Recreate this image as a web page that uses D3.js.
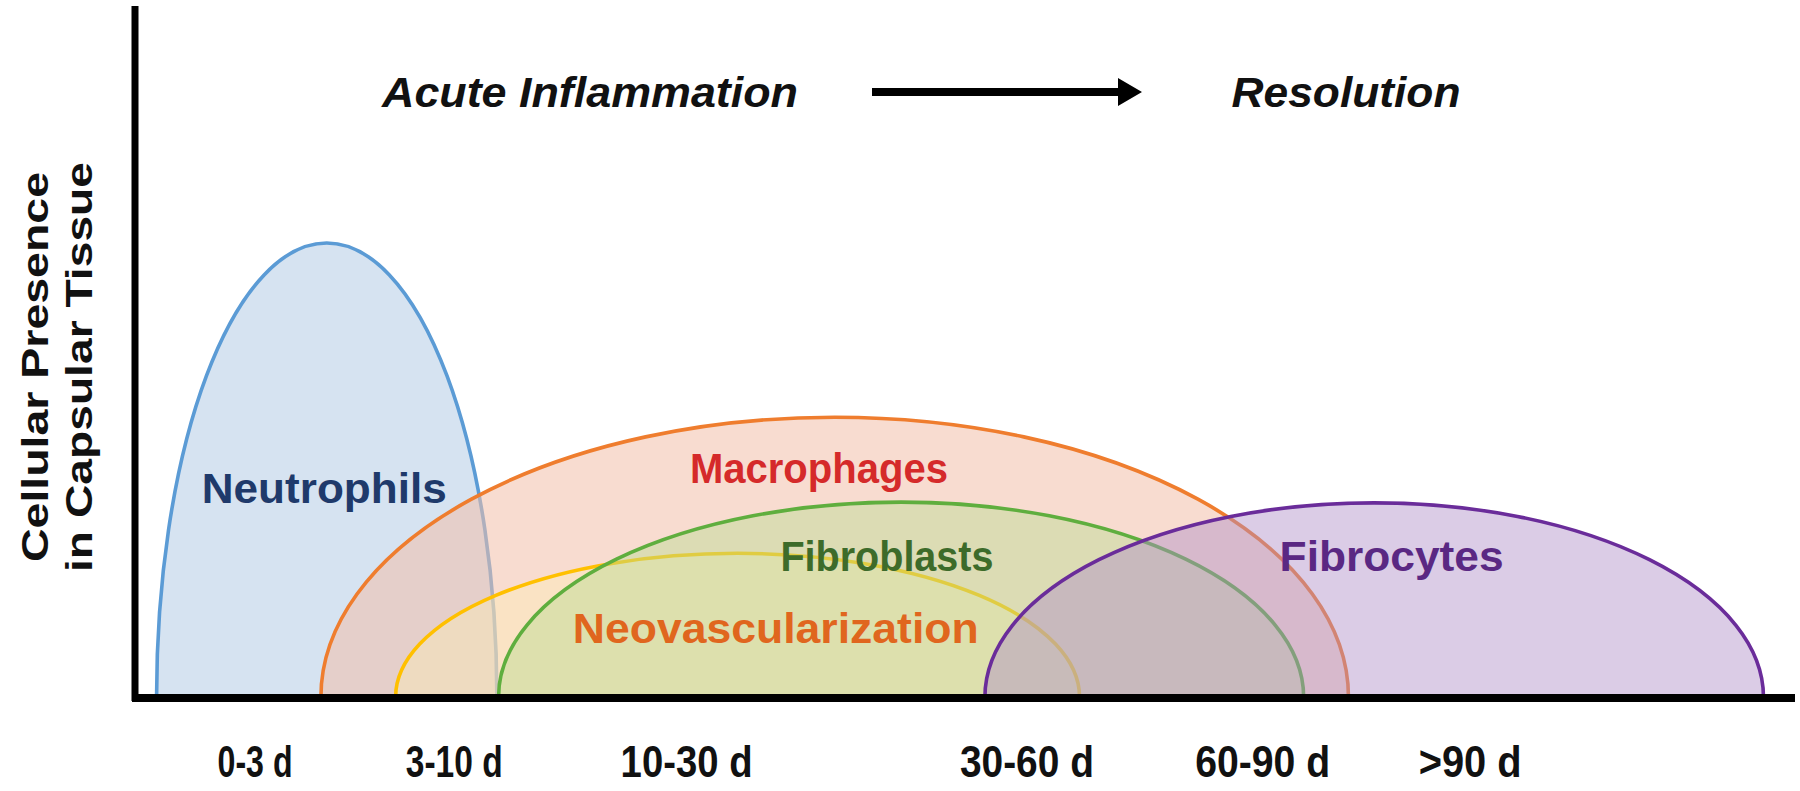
<!DOCTYPE html>
<html>
<head>
<meta charset="utf-8">
<script src="https://cdn.jsdelivr.net/npm/d3@7/dist/d3.min.js"></script>
<style>
  html, body { margin: 0; padding: 0; background: #ffffff; }
  svg { display: block; }
  text { font-family: "Liberation Sans Narrow", "Arial Narrow", "Liberation Sans", Arial, sans-serif; font-weight: bold; }
</style>
</head>
<body>
<script>
// ---- data ----
const categories = ["0-3 d", "3-10 d", "10-30 d", "30-60 d", "60-90 d", ">90 d"];
const categoryPos = [7.2, 19.2, 33.2, 53.7, 67.9, 80.4];   // position on the timeline (0-100)
const cellTypes = ["Neutrophils", "Macrophages", "Neovascularization", "Fibroblasts", "Fibrocytes"];
const onset = [1.3, 11.2, 15.7, 21.9, 51.2];      // timeline position where presence starts
const offset = [21.8, 73.1, 56.9, 70.4, 98.1];    // timeline position where presence ends
const peak = [65.7, 40.5, 20.8, 28.2, 28.1];      // relative cellular presence (0-100)
const labelPosX = [11.4, 41.2, 38.6, 45.3, 75.7];
const labelPosY = [28.1, 31.0, 7.8, 18.2, 18.2];
const phases = ["Acute Inflammation", "Resolution"];
const yTitle = ["Cellular Presence", "in Capsular Tissue"];

// ---- styles ----
const strokeColors = ["#5b9bd5", "#ef7d2e", "#ffc000", "#5fae3e", "#6a2c9a"];
const fillColors   = ["#d6e3f1", "#f2bfa9", "#fff0b0", "#badc92", "#b08ec8"];
const fillOpac     = [1, 0.55, 0.35, 0.45, 0.45];
const labelColors  = ["#1f3a6b", "#d52a2a", "#e0661e", "#3d6b2a", "#5a2883"];
const labelWidths  = [245, 258, 406, 213, 224];
const tickWidths   = [75, 97, 132, 134, 135, 103];

const W = 1800, H = 791;
const svg = d3.select("body").append("svg").attr("width", W).attr("height", H);

const x = d3.scaleLinear().domain([0, 100]).range([135, 1795]);
const y = d3.scaleLinear().domain([0, 100]).range([697, 6]);

// ---- curves (semi-elliptic arches) ----
const g = svg.append("g");
cellTypes.forEach((name, i) => {
  const x0 = x(onset[i]), x1 = x(offset[i]);
  const rx = (x1 - x0) / 2, ry = y(0) - y(peak[i]);
  const d = `M${x0},${y(0)} A${rx},${ry} 0 0 1 ${x1},${y(0)}`;
  g.append("path").attr("d", d + " Z")
    .attr("fill", fillColors[i]).attr("fill-opacity", fillOpac[i])
    .attr("stroke", "none");
  g.append("path").attr("d", d)
    .attr("fill", "none").attr("stroke", strokeColors[i]).attr("stroke-width", 3.6);
});

// ---- axes ----
const xAxis = d3.axisBottom(x).tickValues(categoryPos)
  .tickFormat((d, i) => categories[i]).tickSize(0).tickPadding(0);
const xg = svg.append("g").attr("transform", `translate(0,${y(0)})`).call(xAxis);
xg.select(".domain").remove();
xg.selectAll("text")
  .attr("y", 80).attr("dy", 0)
  .attr("font-size", 44).attr("fill", "#111")
  .attr("font-family", null)
  .attr("textLength", (d, i) => tickWidths[i]).attr("lengthAdjust", "spacingAndGlyphs");

svg.append("line").attr("x1", x(0) - 3).attr("x2", x(100))
  .attr("y1", y(0) + 1).attr("y2", y(0) + 1)
  .attr("stroke", "#000").attr("stroke-width", 8);
svg.append("line").attr("x1", x(0)).attr("x2", x(0))
  .attr("y1", y(100)).attr("y2", y(0) + 4)
  .attr("stroke", "#000").attr("stroke-width", 7);

// ---- curve labels ----
svg.append("g").selectAll("text").data(cellTypes).join("text")
  .attr("x", (d, i) => x(labelPosX[i]))
  .attr("y", (d, i) => y(labelPosY[i]))
  .attr("text-anchor", "middle")
  .attr("font-size", 42)
  .attr("fill", (d, i) => labelColors[i])
  .attr("textLength", (d, i) => labelWidths[i]).attr("lengthAdjust", "spacingAndGlyphs")
  .text(d => d);

// ---- y title ----
const yt = svg.append("g").attr("transform", `translate(0,${367}) rotate(-90)`);
yt.selectAll("text").data(yTitle).join("text")
  .attr("x", 0).attr("y", (d, i) => 48 + i * 44)
  .attr("text-anchor", "middle")
  .attr("font-size", 37).attr("fill", "#111")
  .style("font-family", "'Liberation Sans', Arial, sans-serif")
  .attr("textLength", (d, i) => [390, 410][i]).attr("lengthAdjust", "spacingAndGlyphs")
  .text(d => d);

// ---- phase header with arrow ----
svg.append("text").attr("x", 590).attr("y", 107).attr("text-anchor", "middle")
  .attr("font-size", 43).attr("font-style", "italic").attr("fill", "#111")
  .attr("textLength", 416).attr("lengthAdjust", "spacingAndGlyphs")
  .text(phases[0]);
svg.append("text").attr("x", 1346).attr("y", 107).attr("text-anchor", "middle")
  .attr("font-size", 43).attr("font-style", "italic").attr("fill", "#111")
  .attr("textLength", 229).attr("lengthAdjust", "spacingAndGlyphs")
  .text(phases[1]);
const ay = 92;
svg.append("path")
  .attr("d", `M872,${ay - 4} L1118,${ay - 4} L1118,${ay - 14} L1142,${ay} L1118,${ay + 14} L1118,${ay + 4} L872,${ay + 4} Z`)
  .attr("fill", "#000");
</script>
</body>
</html>
